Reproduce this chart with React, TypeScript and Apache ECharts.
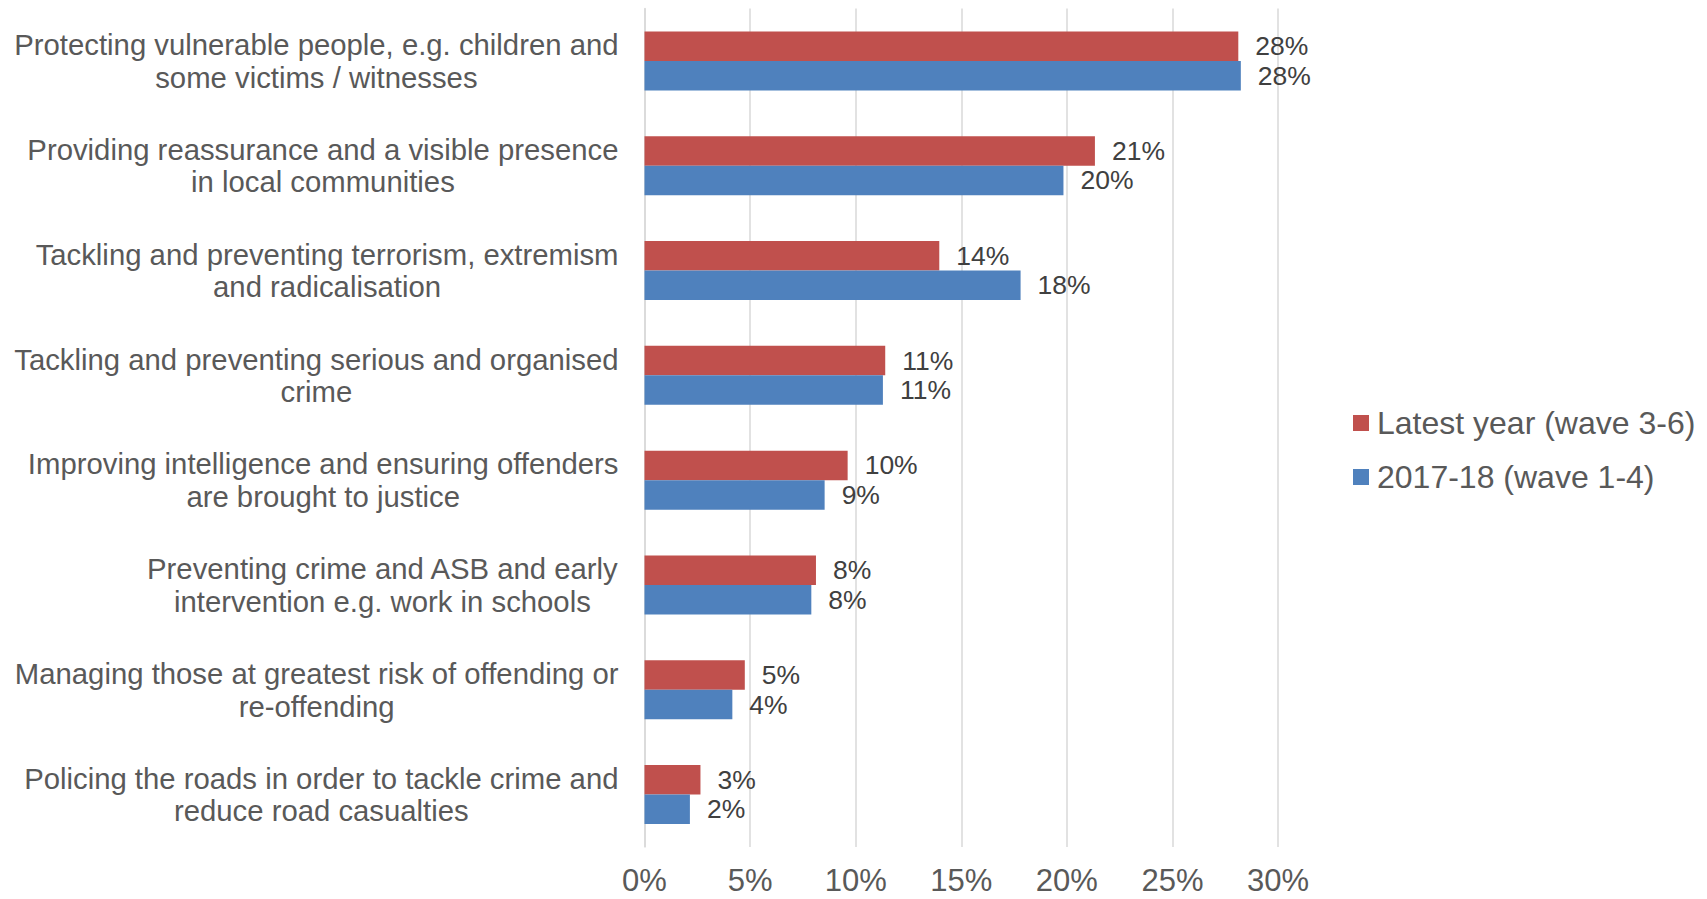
import React, { useEffect, useRef } from "react";
import * as echarts from "echarts";

const categories = [
  "Protecting vulnerable people, e.g. children and\nsome victims / witnesses",
  "Providing reassurance and a visible presence\nin local communities",
  "Tackling and preventing terrorism, extremism\nand radicalisation",
  "Tackling and preventing serious and organised\ncrime",
  "Improving intelligence and ensuring offenders\nare brought to justice",
  "Preventing crime and ASB and early\nintervention e.g. work in schools",
  "Managing those at greatest risk of offending or\nre-offending",
  "Policing the roads in order to tackle crime and\nreduce road casualties",
];

const latestYear = [28.12, 21.33, 13.96, 11.4, 9.62, 8.12, 4.75, 2.65];
const year2017 = [28.24, 19.84, 17.81, 11.29, 8.53, 7.9, 4.16, 2.15];

const seriesNames = ["Latest year (wave 3-6)", "2017-18 (wave 1-4)"];
const xTicks = { min: 0, max: 30, interval: 5 };

const FONT = "'Liberation Sans', Arial, sans-serif";

export default function App() {
  const ref = useRef<HTMLDivElement>(null);
  useEffect(() => {
    if (!ref.current) return;
    const chart = echarts.init(ref.current, undefined, { renderer: "svg" });
    const labelCfg = {
      show: true,
      position: "right",
      distance: 17,
      fontSize: 26.5,
      fontFamily: FONT,
      color: "#404040",
      formatter: (p: any) => `${Math.round(p.value)}%`,
    };
    chart.setOption({
      animation: false,
      backgroundColor: "#ffffff",
      textStyle: { fontFamily: FONT },
      grid: { left: 644.5, top: 8.5, width: 633.5, height: 838.5, containLabel: false },
      legend: {
        orient: "vertical",
        left: 1353,
        top: 407,
        padding: 0,
        itemWidth: 16,
        itemHeight: 16,
        itemGap: 22,
        icon: "rect",
        textStyle: {
          fontSize: 32,
          lineHeight: 30,
          color: "#595959",
          fontFamily: FONT,
          padding: [0, 0, 0, 3],
        },
        data: seriesNames,
      },
      xAxis: {
        type: "value",
        min: xTicks.min,
        max: xTicks.max,
        interval: xTicks.interval,
        axisLine: { show: false },
        axisTick: { show: false },
        splitLine: { show: true, lineStyle: { color: "#D9D9D9", width: 1.5 } },
        axisLabel: {
          formatter: "{value}%",
          fontSize: 31,
          lineHeight: 30,
          color: "#595959",
          fontFamily: FONT,
          margin: 18,
        },
      },
      yAxis: {
        type: "category",
        inverse: true,
        data: categories,
        axisLine: { show: true, lineStyle: { color: "#D9D9D9", width: 1.5 } },
        axisTick: { show: false },
        axisLabel: {
          interval: 0,
          margin: 26,
          align: "right",
          formatter: (v: string) =>
            v
              .split("\n")
              .map((l) => `{c|${l}}`)
              .join("\n"),
          rich: {
            c: {
              align: "center",
              fontSize: 29.3,
              lineHeight: 32.5,
              color: "#595959",
              fontFamily: FONT,
            },
          },
        },
      },
      series: [
        {
          name: seriesNames[0],
          type: "bar",
          data: latestYear,
          barWidth: 29.5,
          barGap: "0%",
          itemStyle: { color: "#C0504D" },
          label: labelCfg,
        },
        {
          name: seriesNames[1],
          type: "bar",
          data: year2017,
          barWidth: 29.5,
          barGap: "0%",
          itemStyle: { color: "#4F81BD" },
          label: labelCfg,
        },
      ],
    });
    return () => chart.dispose();
  }, []);
  return (
    <div
      ref={ref}
      style={{ position: "fixed", left: 0, top: 0, width: 1707, height: 899 }}
    />
  );
}
